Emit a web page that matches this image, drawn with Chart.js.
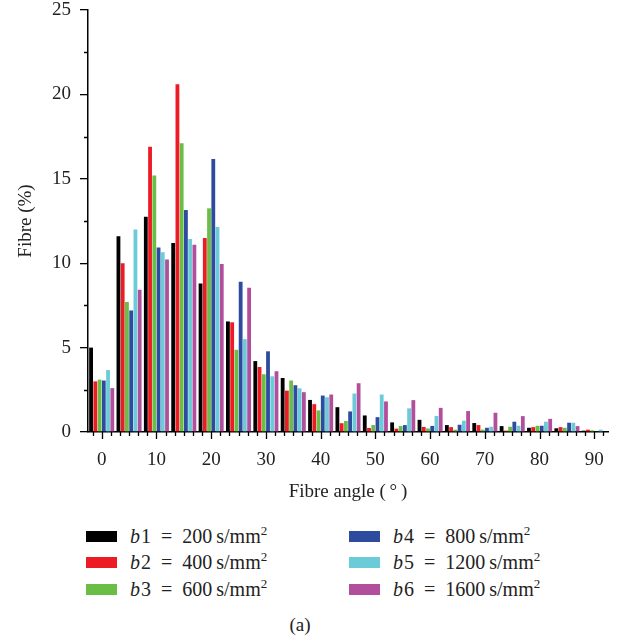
<!DOCTYPE html>
<html>
<head>
<meta charset="utf-8">
<script src="https://cdn.jsdelivr.net/npm/chart.js@4.4.1/dist/chart.umd.min.js"></script>
<style>
  body { margin: 0; background: #fff; font-family: "Liberation Serif", "DejaVu Serif", serif; color: #222; }
  #wrap { position: relative; width: 619px; height: 642px; }
  #box { position: absolute; left: 0; top: 0; width: 619px; height: 510px; }
  #legend { position: absolute; left: 86px; top: 523px; width: 533px; height: 81px; }
  .item { position: absolute; display: flex; align-items: center; height: 26px; font-size: 20px; white-space: nowrap; }
  .sw { width: 31px; height: 11px; margin-right: 13px; }
  .item i { margin-right: 1px; }
  .item sup { font-size: 13px; vertical-align: 8px; line-height: 0; }
  #caption { position: absolute; left: 0; top: 614px; width: 600px; text-align: center; font-size: 19px; }
</style>
</head>
<body>
<div id="wrap">
  <div id="box"><canvas id="fibreChart" width="619" height="510"></canvas></div>
  <div id="legend"></div>
  <div id="caption">(a)</div>
</div>
<script>
// fibre angle bins (degrees)
const angles = [0, 5, 10, 15, 20, 25, 30, 35, 40, 45, 50, 55, 60, 65, 70, 75, 80, 85, 90];

// percentage of fibres per bin for each b-value
const b1 = [5.0, 11.6, 12.75, 11.2, 8.8, 6.55, 4.2, 3.2, 1.9, 1.47, 0.98, 0.57, 0.72, 0.41, 0.53, 0.35, 0.25, 0.22, 0.08];
const b2 = [3.0, 10.0, 16.9, 20.6, 11.5, 6.5, 3.85, 2.45, 1.65, 0.52, 0.24, 0.2, 0.3, 0.29, 0.41, 0.08, 0.29, 0.29, 0.14];
const b3 = [3.1, 7.7, 15.2, 17.1, 13.25, 4.87, 3.42, 3.05, 1.28, 0.65, 0.41, 0.35, 0.21, 0.14, 0.14, 0.31, 0.37, 0.25, 0.1];
const b4 = [3.05, 7.2, 10.93, 13.15, 16.17, 8.9, 4.78, 2.77, 2.16, 1.22, 0.88, 0.41, 0.36, 0.43, 0.25, 0.61, 0.37, 0.55, 0.05];
const b5 = [3.67, 12.0, 10.65, 11.44, 12.15, 5.5, 3.3, 2.59, 2.06, 2.28, 2.22, 1.4, 0.95, 0.67, 0.31, 0.37, 0.61, 0.55, 0.14];
const b6 = [2.6, 8.43, 10.22, 11.1, 9.96, 8.55, 3.6, 2.36, 2.22, 2.89, 1.81, 1.89, 1.43, 1.24, 1.14, 0.94, 0.78, 0.35, 0.0];

const seriesNames = ['b1', 'b2', 'b3', 'b4', 'b5', 'b6'];
const bValues = [200, 400, 600, 800, 1200, 1600];   // s/mm^2
const yTicks = [0, 5, 10, 15, 20, 25];

const colours = ['#000000', '#ed1c24', '#6abd45', '#2e4c9f', '#6ccbd8', '#b24f9d'];
const series = [b1, b2, b3, b4, b5, b6];

const serif = '"Liberation Serif", "DejaVu Serif", serif';

// little tick marks: x every 10/6 degrees (long ones at the labelled angles), y at the half steps
const tickMarks = {
    id: 'tickMarks',
    afterDraw(chart) {
        const {ctx, chartArea} = chart;
        const x = chart.scales.x, y = chart.scales.y;
        const x0 = x.getPixelForValue(0);
        const step = (x.getPixelForValue(1) - x0) / 5 * 10 / 6;
        ctx.save();
        ctx.strokeStyle = '#000';
        ctx.lineWidth = 1.3;
        ctx.beginPath();
        for (let k = -2; k <= 60; k++) {
            const px = Math.round(x0 + k * step) + 0.5;
            if (px < chartArea.left - 1 || px > chartArea.right + 1) continue;
            const len = k % 6 === 0 ? 7 : 4;
            ctx.moveTo(px, chartArea.bottom);
            ctx.lineTo(px, chartArea.bottom + len);
        }
        for (let i = 0; i < yTicks.length - 1; i++) {
            const py = Math.round(y.getPixelForValue((yTicks[i] + yTicks[i + 1]) / 2)) + 0.5;
            ctx.moveTo(chartArea.left - 4, py);
            ctx.lineTo(chartArea.left, py);
        }
        ctx.stroke();
        ctx.restore();
    }
};

const data = {
    labels: angles.map(String),
    datasets: series.map((vals, i) => ({
        label: seriesNames[i] + ' = ' + bValues[i] + ' s/mm2',
        data: vals,
        backgroundColor: colours[i],
        borderWidth: 0,
        categoryPercentage: 0.93,
        barPercentage: 0.9
    }))
};

const config = {
    type: 'bar',
    data,
    options: {
        responsive: false,
        animation: false,
        devicePixelRatio: 1,
        layout: { padding: { top: 10, right: 11, left: 0, bottom: 0 } },
        plugins: { legend: { display: false }, tooltip: { enabled: false } },
        scales: {
            x: {
                grid: { display: false },
                border: { display: true, color: '#000', width: 1.5 },
                ticks: {
                    autoSkip: false,
                    maxRotation: 0,
                    padding: 9,
                    color: '#222',
                    font: { family: serif, size: 19 },
                    callback: (v, i) => angles[i] % 10 === 0 ? angles[i] : ''
                },
                title: {
                    display: true,
                    text: 'Fibre angle (\u2009°\u2009)',
                    color: '#222',
                    font: { family: serif, size: 19 },
                    padding: { top: 0, bottom: 7 }
                },
                afterFit: s => { s.height = 78; s.paddingLeft = 0; s.paddingRight = 0; }
            },
            y: {
                min: 0,
                max: 25,
                grid: { display: true, drawOnChartArea: false, drawTicks: true, tickLength: 8, color: '#000', lineWidth: 1.3 },
                border: { display: true, color: '#000', width: 1.5 },
                ticks: {
                    stepSize: 5,
                    padding: 9,
                    color: '#222',
                    font: { family: serif, size: 19 }
                },
                title: {
                    display: true,
                    text: 'Fibre (%)',
                    color: '#222',
                    font: { family: serif, size: 19 },
                    padding: { top: 15, bottom: 0 }
                },
                afterFit: s => { s.width = 88; s.paddingTop = 0; s.paddingBottom = 0; }
            }
        }
    },
    plugins: [tickMarks]
};

const fibreChart = new Chart(document.getElementById('fibreChart'), config);

// legend in two columns: b1-b3 on the left, b4-b6 on the right
const legend = document.getElementById('legend');
seriesNames.forEach((name, i) => {
    const col = Math.floor(i / 3), row = i % 3;
    const item = document.createElement('div');
    item.className = 'item';
    item.style.left = (col * 263) + 'px';
    item.style.top = (row * 26.5) + 'px';
    const sw = document.createElement('span');
    sw.className = 'sw';
    sw.style.background = colours[i];
    const txt = document.createElement('span');
    txt.innerHTML = '<i>' + name[0] + '</i>' + name.slice(1) + '&ensp;=&ensp;' + bValues[i] + '&thinsp;s/mm<sup>2</sup>';
    item.appendChild(sw);
    item.appendChild(txt);
    legend.appendChild(item);
});
</script>
</body>
</html>
